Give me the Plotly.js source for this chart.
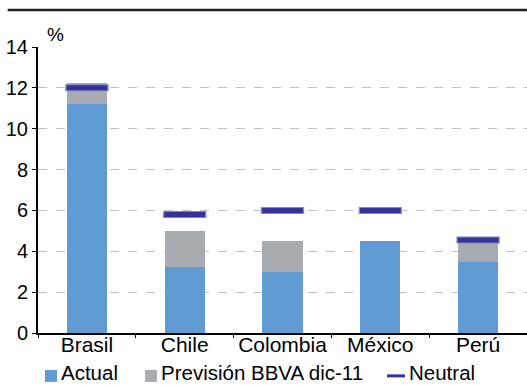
<!DOCTYPE html>
<html><head><meta charset="utf-8">
<script src="https://cdn.plot.ly/plotly-3.0.1.min.js"></script>
<style>html,body{margin:0;padding:0;background:#fff;}#chart{width:527px;height:385px;}</style>
</head><body><div id="chart"></div>
<script>
const categories = ["Brasil", "Chile", "Colombia", "México", "Perú"];
const actual = [11.2, 3.25, 3.0, 4.5, 3.5];
const prevision = [1.05, 1.75, 1.5, 0, 1.0];
const neutral = [12.0, 5.8, 6.0, 6.0, 4.55];
const yTicks = [0, 2, 4, 6, 8, 10, 12, 14];
const legendLabels = ["Actual", "Previsión BBVA dic-11", "Neutral"];

const FAM = "Liberation Sans, Arial, sans-serif";
const font = {family: FAM, size: 21, color: "#000"};
const legFont = {family: FAM, size: 20.5, color: "#000"};
const C_ACT = "#619bd3", C_PREV = "#a8abaf", C_NEU = "#333399";

const traces = [
  {type: "bar", name: legendLabels[0], x: categories, y: actual, marker: {color: C_ACT}, width: 0.41, showlegend: false},
  {type: "bar", name: legendLabels[1], x: categories, y: prevision, marker: {color: C_PREV}, width: 0.41, showlegend: false},
  {type: "scatter", mode: "markers", name: legendLabels[2], x: categories, y: neutral, showlegend: false, hoverinfo: "skip",
   marker: {symbol: "line-ew", size: 31, line: {width: 7, color: "#8585c6"}}},
  {type: "scatter", mode: "markers", name: legendLabels[2], x: categories, y: neutral, showlegend: false,
   marker: {symbol: "line-ew", size: 29, color: C_NEU, line: {width: 5, color: C_NEU}}}
];

// manual legend (paper coords)
const legY0 = -0.171, legY1 = -0.129, legYm = -0.150;
const shapes = [
  {type: "line", xref: "paper", yref: "paper", x0: -0.062, x1: 1, y0: 1.129, y1: 1.129, line: {color: "#222", width: 2.5}},
  {type: "rect", xref: "paper", yref: "paper", x0: 0.0143, x1: 0.0389, y0: legY0, y1: legY1, fillcolor: C_ACT, line: {width: 0}},
  {type: "rect", xref: "paper", yref: "paper", x0: 0.2188, x1: 0.2434, y0: legY0, y1: legY1, fillcolor: C_PREV, line: {width: 0}},
  {type: "line", xref: "paper", yref: "paper", x0: 0.7137, x1: 0.7505, y0: legYm, y1: legYm, line: {color: C_NEU, width: 3}}
];
const legX = [0.045, 0.249, 0.756];
const annotations = [
  {text: "%", xref: "paper", yref: "paper", x: 0.035, y: 1.043, xanchor: "center", yanchor: "middle",
   showarrow: false, font: {family: FAM, size: 19, color: "#000"}}
].concat(legendLabels.map((t, i) => ({
  text: t, xref: "paper", yref: "paper", x: legX[i], y: -0.1818, xanchor: "left", yanchor: "bottom",
  showarrow: false, font: legFont, borderpad: 0
})));

const layout = {
  width: 527, height: 385,
  margin: {l: 38, r: 0, t: 47, b: 52},
  paper_bgcolor: "#fff", plot_bgcolor: "#fff",
  font: font,
  barmode: "stack",
  showlegend: false,
  xaxis: {type: "category", showline: true, linecolor: "#000", linewidth: 2, ticks: "outside", tickson: "boundaries",
          ticklen: 3, tickcolor: "#000", tickfont: font, tickangle: 0, ticklabelstandoff: -8, automargin: false,
          showgrid: false, fixedrange: true},
  yaxis: {range: [0, 14], tickvals: yTicks, showline: true, linecolor: "#000", linewidth: 2, ticks: "outside",
          ticklen: 4, tickcolor: "#000", tickfont: {family: FAM, size: 20, color: "#000"}, automargin: false,
          showgrid: true, gridcolor: "#c0c0c0", griddash: "dash", gridwidth: 1.2, zeroline: false, fixedrange: true},
  annotations: annotations,
  shapes: shapes
};

Plotly.newPlot("chart", traces, layout, {displayModeBar: false, staticPlot: true});
</script>
</body></html>
